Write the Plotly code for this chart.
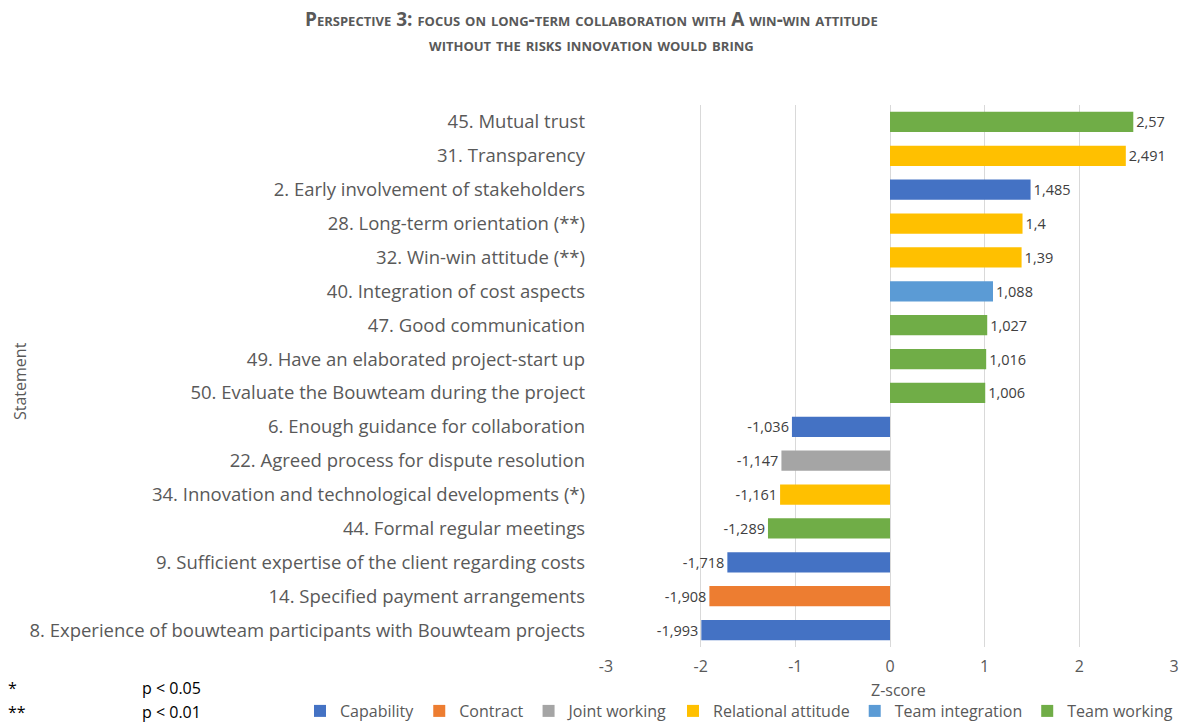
import plotly.graph_objects as go

statements = [
    "45. Mutual trust",
    "31. Transparency",
    "2. Early involvement of stakeholders",
    "28. Long-term orientation (**)",
    "32. Win-win attitude (**)",
    "40. Integration of cost aspects",
    "47. Good communication",
    "49. Have an elaborated project-start up",
    "50. Evaluate the Bouwteam during the project",
    "6. Enough guidance for collaboration",
    "22. Agreed process for dispute resolution",
    "34. Innovation and technological developments (*)",
    "44. Formal regular meetings",
    "9. Sufficient expertise of the client regarding costs",
    "14. Specified payment arrangements",
    "8. Experience of bouwteam participants with Bouwteam projects",
]
z_scores = [2.57, 2.491, 1.485, 1.4, 1.39, 1.088, 1.027, 1.016, 1.006,
            -1.036, -1.147, -1.161, -1.289, -1.718, -1.908, -1.993]
groups = ["Team working", "Relational attitude", "Capability", "Relational attitude",
          "Relational attitude", "Team integration", "Team working", "Team working",
          "Team working", "Capability", "Joint working", "Relational attitude",
          "Team working", "Capability", "Contract", "Capability"]

group_order = ["Capability", "Contract", "Joint working", "Relational attitude",
               "Team integration", "Team working"]
group_colors = ["#4472C4", "#ED7D31", "#A5A5A5", "#FFC000", "#5B9BD5", "#70AD47"]

x_tickvals = [-3, -2, -1, 0, 1, 2, 3]
x_ticktext = ["-3", "-2", "-1", "0", "1", "2", "3"]

footnote_marks = ["*", "**"]
footnote_texts = ["p < 0.05", "p < 0.01"]

FONT = "Open Sans"
GREY = "#595959"

# plot area in pixels (for placing annotations)
L, R, T, B = 606, 8, 105, 77
W, H = 1182, 724
PW, PH = W - L - R, H - T - B
def px(x):
    return (x - L) / PW
def py(y):
    return (H - B - y) / PH

fig = go.Figure()
for g, c in zip(group_order, group_colors):
    ys = [s for s, gg in zip(statements, groups) if gg == g]
    xs = [v for v, gg in zip(z_scores, groups) if gg == g]
    fig.add_trace(go.Bar(
        y=ys, x=xs, name=g, orientation="h",
        marker=dict(color=c, line=dict(width=0)),
        text=[str(v).replace(".", ",") for v in xs],
        textposition="outside",
        textfont=dict(family=FONT, size=14.5, color="#404040"),
        cliponaxis=False,
    ))

fig.update_layout(
    width=W, height=H,
    margin=dict(l=L, r=R, t=T, b=B, autoexpand=False),
    paper_bgcolor="white", plot_bgcolor="white",
    barmode="relative", bargap=0.4,
    font=dict(family=FONT, color=GREY),
    showlegend=True,
    legend=dict(orientation="h", x=px(300), xanchor="left", y=py(694), yanchor="top",
                font=dict(family=FONT, size=16, color=GREY),
                itemwidth=30, traceorder="normal", bgcolor="rgba(0,0,0,0)"),
)
fig.update_xaxes(range=[-3, 3], tickvals=x_tickvals, ticktext=x_ticktext,
                 showgrid=True, gridcolor="#D9D9D9", gridwidth=1,
                 zeroline=True, zerolinecolor="#D9D9D9", zerolinewidth=1,
                 showline=False, ticks="", ticklabelstandoff=8,
                 tickfont=dict(family=FONT, size=16, color=GREY))
fig.update_yaxes(categoryorder="array", categoryarray=statements[::-1],
                 showgrid=False, showline=False, zeroline=False, ticks="",
                 ticklabelstandoff=20, automargin=False,
                 tickfont=dict(family=FONT, size=18.5, color=GREY))

fig.add_annotation(text="Z-score", xref="paper", yref="paper", x=px(898), y=py(690),
                   xanchor="center", yanchor="middle", showarrow=False,
                   font=dict(family=FONT, size=16, color=GREY))
fig.add_annotation(text="Statement", xref="paper", yref="paper", x=px(20), y=py(381),
                   textangle=-90, xanchor="center", yanchor="middle", showarrow=False,
                   font=dict(family=FONT, size=16, color=GREY))
title_lines = ["Perspective 3: focus on long-term collaboration with A win-win attitude",
               "without the risks innovation would bring"]
fig.add_annotation(text="<br>".join(title_lines), xref="paper", yref="paper",
                   x=px(591), y=py(32), xanchor="center", yanchor="middle",
                   align="center", showarrow=False,
                   font=dict(family=FONT, size=19, color=GREY, weight="bold",
                             variant="small-caps"))
# footnotes
for mark, txt, yy in zip(footnote_marks, footnote_texts, [688, 712]):
    fig.add_annotation(text=mark, xref="paper", yref="paper", x=px(6), y=py(yy),
                       xanchor="left", yanchor="middle", showarrow=False,
                       font=dict(family=FONT, size=16, color="#000000"))
    fig.add_annotation(text=txt, xref="paper", yref="paper", x=px(140), y=py(yy),
                       xanchor="left", yanchor="middle", showarrow=False,
                       font=dict(family=FONT, size=16, color="#000000"))

fig.write_html("out.html")
